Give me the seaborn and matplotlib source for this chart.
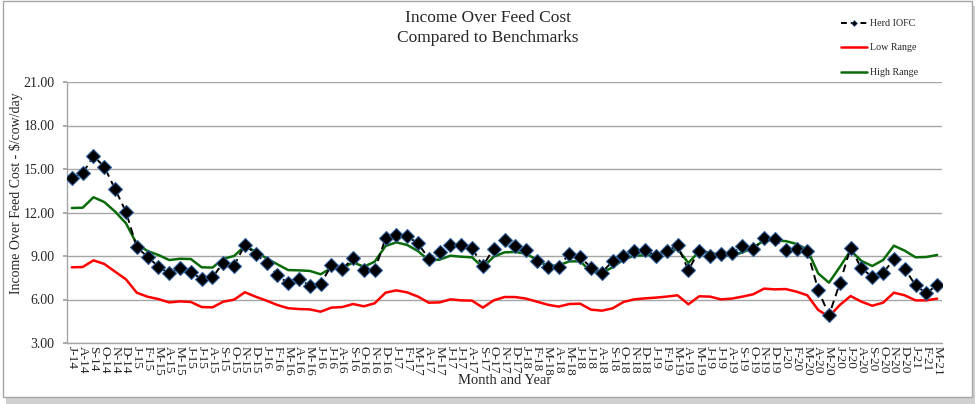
import matplotlib
matplotlib.use("Agg")
import matplotlib.pyplot as plt
import seaborn as sns
import pandas as pd
from matplotlib.patches import Rectangle
from matplotlib.lines import Line2D

months = ["J-14", "A-14", "S-14", "O-14", "N-14", "D-14",
          "J-15", "F-15", "M-15", "A-15", "M-15", "J-15", "J-15", "A-15", "S-15", "O-15", "N-15", "D-15",
          "J-16", "F-16", "M-16", "A-16", "M-16", "J-16", "J-16", "A-16", "S-16", "O-16", "N-16", "D-16",
          "J-17", "F-17", "M-17", "A-17", "M-17", "J-17", "J-17", "A-17", "S-17", "O-17", "N-17", "D-17",
          "J-18", "F-18", "M-18", "A-18", "M-18", "J-18", "J-18", "A-18", "S-18", "O-18", "N-18", "D-18",
          "J-19", "F-19", "M-19", "A-19", "M-19", "J-19", "J-19", "A-19", "S-19", "O-19", "N-19", "D-19",
          "J-20", "F-20", "M-20", "A-20", "M-20", "J-20", "J-20", "A-20", "S-20", "O-20", "N-20", "D-20",
          "J-21", "F-21", "M-21"]

herd_iofc = [14.40, 14.70, 15.90, 15.15, 13.60, 12.05, 9.60, 8.95, 8.26, 7.80,
             8.15, 7.92, 7.39, 7.53, 8.54, 8.33, 9.78, 9.12, 8.54, 7.67,
             7.12, 7.41, 6.95, 7.07, 8.36, 8.10, 8.84, 8.06, 8.01, 10.22,
             10.47, 10.36, 9.87, 8.82, 9.30, 9.76, 9.76, 9.53, 8.31, 9.51,
             10.10, 9.69, 9.41, 8.66, 8.22, 8.26, 9.14, 8.93, 8.20, 7.85,
             8.66, 9.02, 9.37, 9.44, 9.00, 9.32, 9.74, 8.03, 9.37, 9.02,
             9.16, 9.18, 9.69, 9.46, 10.22, 10.15, 9.44, 9.48, 9.34, 6.68,
             4.91, 7.11, 9.57, 8.15, 7.57, 7.83, 8.77, 8.13, 6.98, 6.43,
             7.00]

low_range = [8.22, 8.24, 8.70, 8.45, 7.92, 7.39, 6.47, 6.19, 6.03, 5.80,
             5.87, 5.83, 5.48, 5.46, 5.85, 5.99, 6.50, 6.19, 5.92, 5.62,
             5.40, 5.34, 5.32, 5.16, 5.44, 5.48, 5.69, 5.53, 5.74, 6.47,
             6.63, 6.49, 6.20, 5.78, 5.80, 6.01, 5.94, 5.92, 5.44, 5.94,
             6.17, 6.17, 6.06, 5.85, 5.64, 5.51, 5.69, 5.71, 5.30, 5.23,
             5.39, 5.83, 6.01, 6.08, 6.13, 6.20, 6.29, 5.67, 6.22, 6.20,
             6.01, 6.06, 6.20, 6.36, 6.75, 6.70, 6.72, 6.54, 6.29, 5.28,
             4.82, 5.62, 6.24, 5.85, 5.57, 5.78, 6.47, 6.29, 5.94, 5.94,
             6.06]

high_range = [12.31, 12.33, 13.05, 12.72, 12.06, 11.26, 9.83, 9.34, 9.07, 8.72,
              8.81, 8.79, 8.22, 8.20, 8.81, 9.00, 9.69, 9.30, 8.84, 8.43,
              8.03, 8.01, 7.97, 7.74, 8.17, 8.15, 8.56, 8.26, 8.61, 9.69,
              9.94, 9.76, 9.34, 8.70, 8.75, 9.02, 8.95, 8.91, 8.22, 8.95,
              9.25, 9.28, 9.16, 8.72, 8.31, 8.36, 8.63, 8.63, 7.92, 7.85,
              8.22, 8.75, 9.02, 9.05, 9.09, 9.28, 9.48, 8.52, 9.32, 9.23,
              9.07, 9.02, 9.25, 9.57, 10.08, 10.06, 10.03, 9.83, 9.44, 7.80,
              7.16, 8.24, 9.37, 8.66, 8.31, 8.72, 9.71, 9.37, 8.91, 8.93,
              9.07]

y_ticks = [3, 6, 9, 12, 15, 18, 21]

sns.set_theme(style="white")
plt.rcParams["font.family"] = ["Liberation Serif", "DejaVu Serif"]

df = pd.DataFrame({
    "idx": list(range(len(months))),
    "herd": herd_iofc,
    "low": low_range,
    "high": high_range,
})

fig = plt.figure(figsize=(9.8, 4.04), dpi=100)
fig.patch.set_facecolor("white")
# chart border with soft shadow
fig.patches.append(Rectangle((6 / 980, 0.0), 969 / 980, 398 / 404, transform=fig.transFigure,
                             facecolor="#d0d0d0", edgecolor="none", zorder=-3))
fig.patches.append(Rectangle((3 / 980, 7 / 404), 969 / 980, 396 / 404, transform=fig.transFigure,
                             facecolor="white", edgecolor="#a6a6a6", linewidth=1.0, zorder=-2))

ax = fig.add_axes([67 / 980, 61 / 404, 875 / 980, 261 / 404])
ax.set_facecolor("none")

sns.lineplot(data=df, x="idx", y="low", ax=ax, color="#ff0000", linewidth=1.8, zorder=3)
sns.lineplot(data=df, x="idx", y="high", ax=ax, color="#0b6b0b", linewidth=1.8, zorder=3)
sns.lineplot(data=df, x="idx", y="herd", ax=ax, color="black", linewidth=1.4, zorder=4,
             linestyle=(0, (4, 2.5)), marker="D", markersize=7, markerfacecolor="black",
             markeredgecolor="#2d5d9a", markeredgewidth=0.8)

ax.set_xlim(-0.45, len(months) - 1 + 0.45)
ax.set_ylim(3, 21)
ax.set_yticks(y_ticks)
ax.set_yticklabels([f"{v:.2f}" for v in y_ticks], fontsize=10)
ax.set_xticks(df["idx"])
ax.set_xticklabels(months, rotation=270, fontsize=9.6, va="top", ha="center")
ax.tick_params(axis="x", length=0, pad=2)
ax.tick_params(axis="y", length=3, color="#a0a0a0", pad=6, left=True)

ax.yaxis.grid(True, color="#a6a6a6", linewidth=1.0)
ax.xaxis.grid(False)
for side in ["top", "right"]:
    ax.spines[side].set_visible(False)
for side in ["left", "bottom"]:
    ax.spines[side].set_color("#a6a6a6")
    ax.spines[side].set_linewidth(1.0)

ax.set_xlabel("Month and Year", fontsize=10.5, labelpad=-1)
ax.set_ylabel("Income Over Feed Cost - $/cow/day", fontsize=10)
ax.yaxis.set_label_coords(-0.05, 0.575)

fig.text(0.498, 1 - 18 / 404, "Income Over Feed Cost", ha="center", va="center", fontsize=12.5)
fig.text(0.498, 1 - 38 / 404, "Compared to Benchmarks", ha="center", va="center", fontsize=12.5)

handles = [
    Line2D([], [], color="black", linewidth=1.4, linestyle=(0, (3, 2)), marker="D",
           markersize=3, markerfacecolor="black", markeredgecolor="#2d5d9a", markeredgewidth=0.5),
    Line2D([], [], color="#ff0000", linewidth=1.8),
    Line2D([], [], color="#0b6b0b", linewidth=1.8),
]
fig.legend(handles, ["Herd IOFC", "Low Range", "High Range"], loc="upper left",
           bbox_to_anchor=(832 / 980, 1 - 10 / 404), frameon=False, fontsize=7.2,
           handlelength=2.6, handletextpad=0.3, labelspacing=1.55)

fig.savefig("out.png", dpi=100)
